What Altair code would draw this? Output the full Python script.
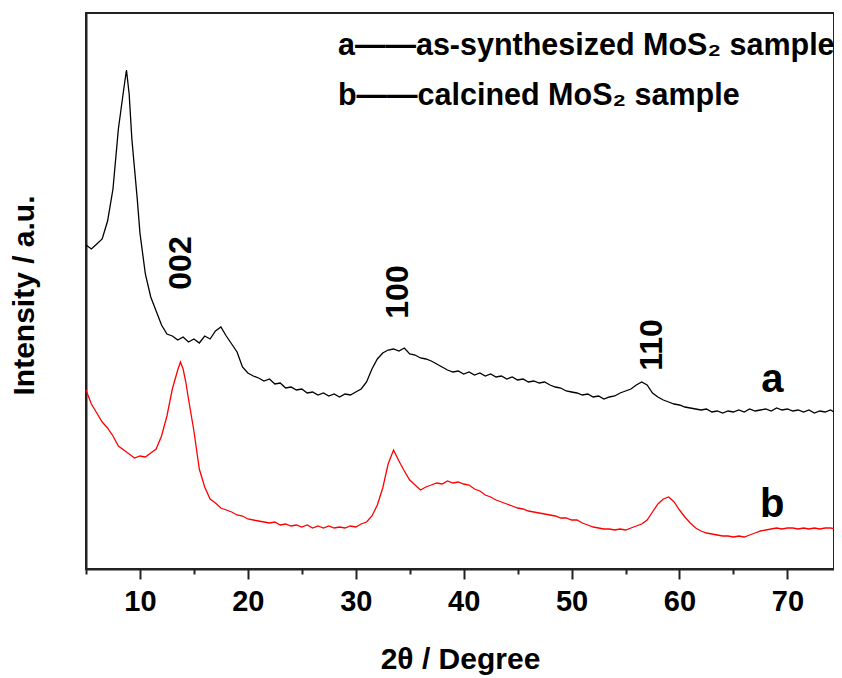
import altair as alt
import pandas as pd

# ---- data (2-theta in degrees, intensity in a.u.) ----
a_theta = [5.0, 5.5, 6.0, 6.5, 7.0, 7.5, 8.0, 8.25, 8.5, 8.75, 9.0, 9.25, 9.5, 9.75,
           10.0, 10.5, 11.0, 11.5, 12.0, 12.5, 13.0, 13.5, 14.0, 14.5, 15.0, 15.5,
           16.0, 16.5, 17.0, 17.5, 18.0, 18.5, 19.0, 19.5, 20.0, 20.5, 21.0, 21.5,
           22.0, 22.5, 23.0, 23.5, 24.0, 24.5, 25.0, 25.5, 26.0, 26.5, 27.0, 27.5,
           28.0, 28.5, 29.0, 29.5, 30.0, 30.5, 31.0, 31.5, 32.0, 32.5, 33.0, 33.5,
           34.0, 34.5, 35.0, 35.5, 36.0, 36.5, 37.0, 37.5, 38.0, 38.5, 39.0, 39.5,
           40.0, 40.5, 41.0, 41.5, 42.0, 42.5, 43.0, 43.5, 44.0, 44.5, 45.0, 45.5,
           46.0, 46.5, 47.0, 47.5, 48.0, 48.5, 49.0, 49.5, 50.0, 50.5, 51.0, 51.5,
           52.0, 52.5, 53.0, 53.5, 54.0, 54.5, 55.0, 55.5, 56.0, 56.5, 57.0, 57.5,
           58.0, 58.5, 59.0, 59.5, 60.0, 60.5, 61.0, 61.5, 62.0, 62.5, 63.0, 63.5,
           64.0, 64.5, 65.0, 65.5, 66.0, 66.5, 67.0, 67.5, 68.0, 68.5, 69.0, 69.5,
           70.0, 70.5, 71.0, 71.5, 72.0, 72.5, 73.0, 73.5, 74.0, 74.5, 75.0]
a_int = [3240, 3200, 3250, 3300, 3480, 3800, 4400, 4600, 4800, 4990, 4750, 4300, 4000, 3700,
         3360, 2950, 2720, 2580, 2440, 2350, 2330, 2290, 2320, 2270, 2300, 2260,
         2330, 2300, 2380, 2420, 2330, 2250, 2170, 2020, 1960, 1930, 1910, 1880,
         1900, 1850, 1860, 1810, 1820, 1790, 1800, 1760, 1770, 1740, 1760, 1730,
         1750, 1720, 1750, 1740, 1770, 1800, 1870, 2000, 2100, 2160, 2190, 2200,
         2180, 2210, 2150, 2140, 2110, 2100, 2080, 2050, 2020, 1990, 1970, 1980,
         1950, 1970, 1940, 1960, 1930, 1950, 1920, 1930, 1900, 1920, 1890, 1900,
         1870, 1880, 1860, 1870, 1840, 1820, 1810, 1780, 1770, 1760, 1740, 1750,
         1720, 1730, 1700, 1720, 1730, 1760, 1780, 1800, 1840, 1870, 1840, 1760,
         1720, 1690, 1670, 1650, 1640, 1620, 1610, 1600, 1590, 1600, 1570, 1580,
         1560, 1580, 1570, 1590, 1570, 1600, 1580, 1590, 1600, 1580, 1610, 1590,
         1600, 1580, 1590, 1570, 1590, 1560, 1580, 1570, 1590, 1560, 1570]

b_theta = [5.0, 5.5, 6.0, 6.5, 7.0, 7.5, 8.0, 8.5, 9.0, 9.5, 10.0, 10.5, 11.0, 11.5,
           12.0, 12.5, 13.0, 13.5, 13.75, 14.0, 14.25, 14.5, 15.0, 15.5, 16.0, 16.5,
           17.0, 17.5, 18.0, 18.5, 19.0, 19.5, 20.0, 20.5, 21.0, 21.5, 22.0, 22.5,
           23.0, 23.5, 24.0, 24.5, 25.0, 25.5, 26.0, 26.5, 27.0, 27.5, 28.0, 28.5,
           29.0, 29.5, 30.0, 30.5, 31.0, 31.5, 32.0, 32.5, 33.0, 33.5, 34.0, 34.5,
           35.0, 35.5, 36.0, 36.5, 37.0, 37.5, 38.0, 38.5, 39.0, 39.5, 40.0, 40.5,
           41.0, 41.5, 42.0, 42.5, 43.0, 43.5, 44.0, 44.5, 45.0, 45.5, 46.0, 46.5,
           47.0, 47.5, 48.0, 48.5, 49.0, 49.5, 50.0, 50.5, 51.0, 51.5, 52.0, 52.5,
           53.0, 53.5, 54.0, 54.5, 55.0, 55.5, 56.0, 56.5, 57.0, 57.5, 58.0, 58.5,
           59.0, 59.5, 60.0, 60.5, 61.0, 61.5, 62.0, 62.5, 63.0, 63.5, 64.0, 64.5,
           65.0, 65.5, 66.0, 66.5, 67.0, 67.5, 68.0, 68.5, 69.0, 69.5, 70.0, 70.5,
           71.0, 71.5, 72.0, 72.5, 73.0, 73.5, 74.0, 74.5, 75.0]
b_int = [1790, 1650, 1560, 1470, 1410, 1330, 1230, 1190, 1150, 1110, 1130, 1120, 1160, 1200,
         1330, 1530, 1800, 1990, 2070, 2000, 1870, 1700, 1380, 1000, 820, 700,
         660, 610, 590, 570, 540, 530, 500, 490, 480, 470, 460, 470,
         440, 450, 430, 440, 420, 440, 410, 430, 410, 430, 410, 420,
         410, 430, 420, 450, 470, 530, 640, 810, 1050, 1190, 1080, 980,
         890, 840, 790, 820, 840, 860, 850, 880, 860, 870, 850, 840,
         800, 780, 740, 720, 690, 670, 650, 630, 610, 600, 580, 570,
         560, 550, 540, 530, 510, 510, 490, 490, 460, 440, 420, 410,
         400, 400, 390, 400, 390, 410, 430, 450, 490, 570, 650, 700,
         720, 670, 590, 520, 460, 410, 380, 360, 350, 340, 330, 330,
         320, 330, 320, 340, 360, 380, 390, 400, 410, 400, 410, 410,
         400, 410, 400, 410, 400, 410, 410, 400, 410]

# annotations
peak_labels = ["002", "100", "110"]
peak_theta = [13.8, 33.9, 57.45]
peak_int = [3060, 2770, 2240]

curve_labels = ["a", "b"]
curve_theta = [68.6, 68.6]
curve_int = [1890, 640]

legend_lines = ["a\u2014\u2014as-synthesized MoS\u2082 sample", "b\u2014\u2014calcined MoS\u2082 sample"]
legend_theta = [28.35, 28.35]
legend_int = [5230, 4730]

FONT = "Liberation Sans"

df_a = pd.DataFrame({"theta": a_theta, "intensity": a_int})
df_b = pd.DataFrame({"theta": b_theta, "intensity": b_int})
df_peaks = pd.DataFrame({"theta": peak_theta, "intensity": peak_int, "label": peak_labels})
df_curves = pd.DataFrame({"theta": curve_theta, "intensity": curve_int, "label": curve_labels})
df_leg = pd.DataFrame({"theta": legend_theta, "intensity": legend_int, "label": legend_lines})

# the reference frame runs past the right edge of the picture; show up to what fits
x_scale = alt.Scale(domain=[5, 74.32], nice=False, zero=False)
y_scale = alt.Scale(domain=[0, 5560], nice=False, zero=True)

x_axis = alt.Axis(
    values=list(range(5, 75, 5)),
    labelExpr="datum.value % 10 === 0 ? datum.label : ''",
    tickSize={"condition": {"test": "datum.value % 10 === 0", "value": 10}, "value": 5},
    tickWidth=2, tickColor="#222", domainColor="#222", domainWidth=2,
    labelFont=FONT, labelFontSize=29, labelFontWeight="bold", labelColor="black",
    labelPadding=8, grid=False,
    title="2θ / Degree", titleFont=FONT, titleFontSize=30, titleFontWeight="bold",
    titleColor="black", titleY=99, titleBaseline="alphabetic",
)
y_axis = alt.Axis(
    ticks=False, labels=False, grid=False, domainColor="#222", domainWidth=2,
    title="Intensity / a.u.", titleFont=FONT, titleFontSize=30, titleFontWeight="bold",
    titleColor="black", titleX=-53, titleY=282, titleAngle=-90,
    titleBaseline="alphabetic", titleAlign="center",
)

line_a = alt.Chart(df_a).mark_line(color="black", strokeWidth=1.3).encode(
    x=alt.X("theta:Q", scale=x_scale, axis=x_axis),
    y=alt.Y("intensity:Q", scale=y_scale, axis=y_axis),
)
line_b = alt.Chart(df_b).mark_line(color="#ff0000", strokeWidth=1.3).encode(
    x=alt.X("theta:Q", scale=x_scale),
    y=alt.Y("intensity:Q", scale=y_scale),
)
peaks = alt.Chart(df_peaks).mark_text(
    font=FONT, fontSize=32, fontWeight="bold", color="black", angle=270,
    align="center", baseline="middle",
).encode(x="theta:Q", y="intensity:Q", text="label:N")
curves = alt.Chart(df_curves).mark_text(
    font=FONT, fontSize=40, fontWeight="bold", color="black",
    align="center", baseline="middle",
).encode(x="theta:Q", y="intensity:Q", text="label:N")
legend = alt.Chart(df_leg).mark_text(
    font=FONT, fontSize=30.5, fontWeight="bold", color="black",
    align="left", baseline="middle",
).encode(x="theta:Q", y="intensity:Q", text="label:N")

chart = alt.layer(line_a, line_b, peaks, curves, legend).properties(
    width=748, height=556,
    autosize=alt.AutoSizeParams(type="none"),
    padding={"left": 78, "top": 5, "right": 0, "bottom": 108},
).configure_view(stroke="#222", strokeWidth=2)

chart.save("out.html", embed_options={"renderer": "svg", "actions": False})
